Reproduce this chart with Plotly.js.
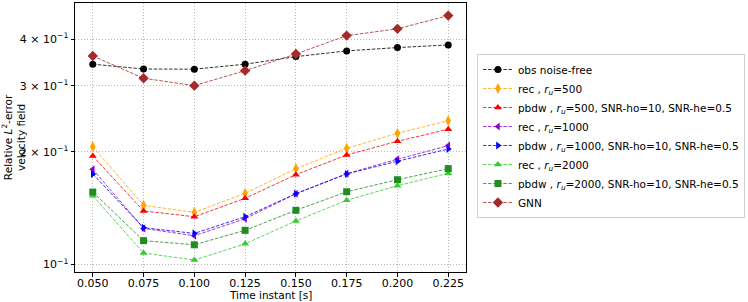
<!DOCTYPE html>
<html><head><meta charset="utf-8">
<script src="https://cdn.plot.ly/plotly-3.0.1.min.js"></script>
<style>html,body{margin:0;padding:0;background:#fff}#chart{width:748px;height:302px}</style>
</head><body><div id="chart"></div>
<script>
const times = [0.050, 0.075, 0.100, 0.125, 0.150, 0.175, 0.200, 0.225];
const obsNoiseFree = [0.343, 0.333, 0.3326, 0.343, 0.3594, 0.3723, 0.380, 0.3862];
const rec500 = [0.2064, 0.1438, 0.1377, 0.1549, 0.1803, 0.2043, 0.2241, 0.2422];
const pbdw500 = [0.1949, 0.1389, 0.1341, 0.1502, 0.1737, 0.1961, 0.2134, 0.2298];
const rec1000 = [0.1796, 0.1248, 0.1193, 0.1324, 0.1545, 0.1748, 0.1910, 0.2077];
const pbdw1000 = [0.1745, 0.1253, 0.1210, 0.1341, 0.1545, 0.1745, 0.1887, 0.2035];
const rec2000 = [0.1526, 0.1072, 0.1027, 0.1135, 0.1306, 0.1483, 0.1623, 0.1752];
const pbdw2000 = [0.1561, 0.1157, 0.1128, 0.1233, 0.1395, 0.1564, 0.1684, 0.1803];
const gnn = [0.3608, 0.3146, 0.3006, 0.3296, 0.3653, 0.4090, 0.4264, 0.4627];
const xTickVals = [0.050, 0.075, 0.100, 0.125, 0.150, 0.175, 0.200, 0.225];
const xTickText = ["0.050", "0.075", "0.100", "0.125", "0.150", "0.175", "0.200", "0.225"];
const yTickVals = [0.1, 0.2, 0.3, 0.4];
const yTickText = ["10<sup>−1</sup>", "2 × 10<sup>−1</sup>", "3 × 10<sup>−1</sup>", "4 × 10<sup>−1</sup>"];
const xTitle = "Time instant [s]";
const yTitle = "Relative <i>L</i><sup>2</sup>-error<br>velocity field";

const ru = "<i>r<sub>u</sub></i>";
const series = [
  {name: "obs noise-free", y: obsNoiseFree, color: "#000000", line: "rgba(0,0,0,0.8)", symbol: "circle", size: 7},
  {name: "rec , " + ru + "=500", y: rec500, color: "#FFA500", line: "rgba(255,165,0,0.8)", symbol: "diamond-tall", size: 8},
  {name: "pbdw , " + ru + "=500, SNR-ho=10, SNR-he=0.5", y: pbdw500, color: "#FF0000", line: "rgba(255,0,0,0.8)", symbol: "triangle-up", size: 7},
  {name: "rec , " + ru + "=1000", y: rec1000, color: "#9400D3", line: "rgba(148,0,211,0.8)", symbol: "triangle-left", size: 7},
  {name: "pbdw , " + ru + "=1000, SNR-ho=10, SNR-he=0.5", y: pbdw1000, color: "#0000FF", line: "rgba(0,0,255,0.8)", symbol: "triangle-right", size: 7},
  {name: "rec , " + ru + "=2000", y: rec2000, color: "#32CD32", line: "rgba(50,205,50,0.8)", symbol: "triangle-up", size: 7},
  {name: "pbdw , " + ru + "=2000, SNR-ho=10, SNR-he=0.5", y: pbdw2000, color: "#228B22", line: "rgba(34,139,34,0.8)", symbol: "square", size: 7},
  {name: "GNN", y: gnn, color: "#A52A2A", line: "rgba(165,42,42,0.8)", symbol: "diamond", size: 8}
];

const traces = series.map(s => ({
  x: times, y: s.y, name: s.name, type: "scatter", mode: "lines+markers",
  line: {color: s.line, width: 1, dash: "3.5px,1.6px"},
  marker: {color: s.color, symbol: s.symbol, size: s.size, line: {width: 0}}
}));

const font = {family: "DejaVu Sans, sans-serif", size: 10.5, color: "#000"};
const layout = {
  width: 748, height: 302,
  margin: {l: 75, r: 278, t: 3, b: 30, pad: 0},
  paper_bgcolor: "#fff", plot_bgcolor: "#fff",
  font: font,
  showlegend: true,
  xaxis: {
    range: [0.04125, 0.23375], tickvals: xTickVals, ticktext: xTickText,
    ticks: "outside", ticklen: 3.5, tickcolor: "#000", tickfont: {size: 11},
    ticklabelstandoff: -3,
    showgrid: true, gridcolor: "#b8b8b8", griddash: "1px,2px", gridwidth: 1,
    showline: true, linecolor: "#000", linewidth: 1, mirror: true, zeroline: false
  },
  yaxis: {
    type: "log", range: [Math.log10(0.0954), Math.log10(0.5)],
    tickvals: yTickVals, ticktext: yTickText,
    ticks: "outside", ticklen: 3.5, tickcolor: "#000", tickfont: {size: 11},
    showgrid: true, gridcolor: "#b8b8b8", griddash: "1px,2px", gridwidth: 1,
    showline: true, linecolor: "#000", linewidth: 1, mirror: true, zeroline: false
  },
  annotations: [
    {text: xTitle, xref: "paper", yref: "paper", x: 0.5, y: (272 - 295) / 269, xanchor: "center", yanchor: "middle", showarrow: false, font: {size: 10.5}},
    {text: yTitle, xref: "paper", yref: "paper", x: (13 - 75) / 395, y: 0.5, xanchor: "center", yanchor: "middle", textangle: -90, showarrow: false, font: {size: 10.5}}
  ],
  legend: {
    x: 1.028, xanchor: "left", y: 0.5056, yanchor: "middle",
    bgcolor: "#fff", bordercolor: "#d0d0d0", borderwidth: 1,
    font: {size: 10.5}, tracegroupgap: 0, itemwidth: 30
  }
};
Plotly.newPlot("chart", traces, layout, {displayModeBar: false, staticPlot: true});
</script></body></html>
